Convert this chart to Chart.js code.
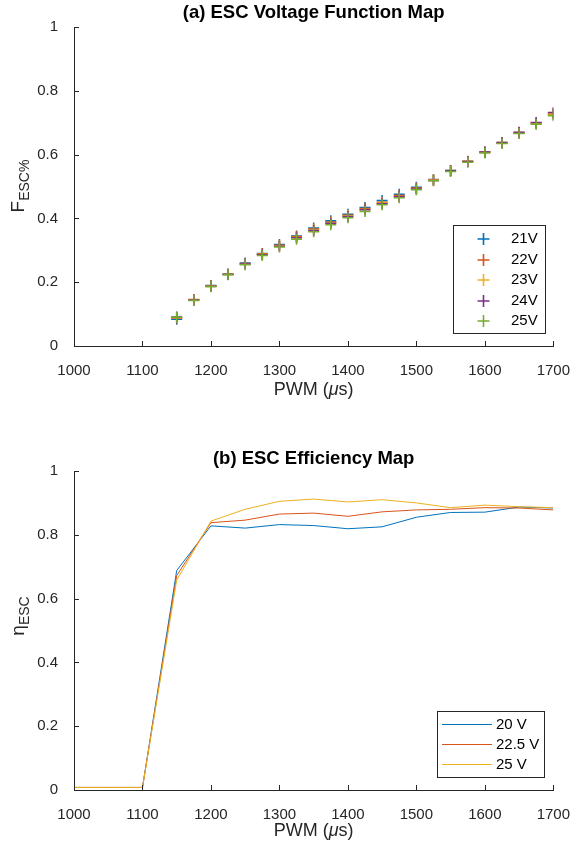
<!DOCTYPE html>
<html>
<head>
<meta charset="utf-8">
<script src="https://cdn.jsdelivr.net/npm/chart.js@4.4.1/dist/chart.umd.min.js"></script>
<style>
  html, body { margin: 0; padding: 0; background: #ffffff; }
  .panel { position: absolute; left: 0; width: 578px; height: 425px; }
  #p1 { top: 0; }
  #p2 { top: 425px; }
</style>
</head>
<body>
<div class="panel" id="p1"><canvas id="c1" width="578" height="425"></canvas></div>
<div class="panel" id="p2"><canvas id="c2" width="578" height="425"></canvas></div>
<script>
// ---------- data: (a) voltage function map ----------
const pwmA = [1150, 1175, 1200, 1225, 1250, 1275, 1300, 1325, 1350, 1375, 1400, 1425,
              1450, 1475, 1500, 1525, 1550, 1575, 1600, 1625, 1650, 1675, 1700];
const f21V = [0.084, 0.145, 0.190, 0.226, 0.260, 0.290, 0.318, 0.345, 0.370, 0.393, 0.413, 0.434,
              0.456, 0.476, 0.498, 0.522, 0.550, 0.578, 0.607, 0.636, 0.667, 0.697, 0.725];
const f22V = [0.088, 0.146, 0.189, 0.225, 0.259, 0.289, 0.316, 0.343, 0.367, 0.389, 0.410, 0.431,
              0.451, 0.472, 0.495, 0.521, 0.550, 0.579, 0.608, 0.638, 0.669, 0.699, 0.728];
const f23V = [0.089, 0.145, 0.188, 0.224, 0.257, 0.287, 0.314, 0.340, 0.364, 0.386, 0.408, 0.428,
              0.448, 0.469, 0.493, 0.520, 0.549, 0.578, 0.607, 0.637, 0.668, 0.698, 0.727];
const f24V = [0.091, 0.144, 0.187, 0.224, 0.257, 0.286, 0.313, 0.339, 0.362, 0.385, 0.406, 0.427,
              0.446, 0.468, 0.492, 0.519, 0.549, 0.578, 0.608, 0.638, 0.670, 0.701, 0.732];
const f25V = [0.090, 0.143, 0.186, 0.223, 0.255, 0.284, 0.310, 0.335, 0.358, 0.380, 0.402, 0.422,
              0.443, 0.465, 0.490, 0.518, 0.547, 0.576, 0.605, 0.635, 0.666, 0.695, 0.722];
const labelsA = ['21V', '22V', '23V', '24V', '25V'];

// ---------- data: (b) efficiency map ----------
const pwmB = [1000, 1050, 1100, 1150, 1200, 1250, 1300, 1350, 1400, 1450, 1500, 1550, 1600, 1650, 1700];
const eta20V  = [0.008, 0.008, 0.008, 0.688, 0.828, 0.821, 0.832, 0.829, 0.819, 0.825, 0.855, 0.870, 0.871, 0.887, 0.884];
const eta225V = [0.008, 0.008, 0.008, 0.672, 0.838, 0.846, 0.865, 0.868, 0.858, 0.872, 0.878, 0.880, 0.885, 0.884, 0.878];
const eta25V  = [0.008, 0.008, 0.008, 0.658, 0.843, 0.880, 0.905, 0.912, 0.903, 0.910, 0.900, 0.885, 0.893, 0.888, 0.885];
const labelsB = ['20 V', '22.5 V', '25 V'];

const xTicks = [1000, 1100, 1200, 1300, 1400, 1500, 1600, 1700];
const yTicks = [0, 0.2, 0.4, 0.6, 0.8, 1];

const colors = ['#0072BD', '#D95319', '#EDB120', '#7E2F8E', '#77AC30'];
const INK = '#262626';
const FONT = "'Liberation Sans', Arial, Helvetica, sans-serif";

const pairs = (xs, ys) => xs.map((x, i) => ({ x: x, y: ys[i] }));

// MATLAB-like axes: left/bottom axis lines, ticks pointing inward
function axesOptions(xHeight) {
  return {
    x: {
      type: 'linear', min: 1000, max: 1700,
      afterBuildTicks: s => { s.ticks = xTicks.map(v => ({ value: v })); },
      afterFit: s => { s.height = xHeight; },
      grid: { display: false },
      border: { display: true, color: INK, width: 1 },
      ticks: { color: INK, font: { family: FONT, size: 15 }, padding: 8, maxRotation: 0,
               callback: v => String(v) }
    },
    y: {
      type: 'linear', min: 0, max: 1,
      afterBuildTicks: s => { s.ticks = yTicks.map(v => ({ value: v })); },
      afterFit: s => { s.width = 74; },
      grid: { display: false },
      border: { display: true, color: INK, width: 1 },
      ticks: { color: INK, font: { family: FONT, size: 15 }, padding: 8,
               callback: v => String(Math.round(v * 10) / 10) }
    }
  };
}

function drawInnerTicks(chart) {
  const ctx = chart.ctx, a = chart.chartArea;
  const xs = chart.scales.x, ys = chart.scales.y;
  ctx.save();
  ctx.strokeStyle = INK; ctx.lineWidth = 1;
  ctx.beginPath();
  xTicks.forEach(v => {
    const px = Math.round(xs.getPixelForValue(v)) + 0.5;
    ctx.moveTo(px, a.bottom); ctx.lineTo(px, a.bottom - 5);
  });
  yTicks.forEach(v => {
    const py = Math.round(ys.getPixelForValue(v)) + 0.5;
    ctx.moveTo(a.left, py); ctx.lineTo(a.left + 5, py);
  });
  ctx.stroke();
  ctx.restore();
}

function drawXTitle(ctx, cx, y) {
  ctx.save();
  ctx.fillStyle = INK;
  ctx.textBaseline = 'middle';
  const parts = [['PWM (', '18px ' + FONT], ['\u03BC', 'italic 18px ' + FONT], ['s)', '18px ' + FONT]];
  let w = 0;
  parts.forEach(p => { ctx.font = p[1]; w += ctx.measureText(p[0]).width; });
  let x = cx - w / 2;
  ctx.textAlign = 'left';
  parts.forEach(p => { ctx.font = p[1]; ctx.fillText(p[0], x, y); x += ctx.measureText(p[0]).width; });
  ctx.restore();
}

function drawYTitle(ctx, cx, cy, main, mainFont, sub, subFont, subShift) {
  ctx.save();
  ctx.translate(cx, cy);
  ctx.rotate(-Math.PI / 2);
  ctx.fillStyle = INK;
  ctx.textBaseline = 'alphabetic';
  ctx.textAlign = 'left';
  ctx.font = mainFont; const w1 = ctx.measureText(main).width;
  ctx.font = subFont; const w2 = ctx.measureText(sub).width;
  const x0 = -(w1 + w2) / 2;
  ctx.font = mainFont; ctx.fillText(main, x0, 0);
  ctx.font = subFont; ctx.fillText(sub, x0 + w1, subShift);
  ctx.restore();
}

function drawTitle(ctx, text, cx, cy) {
  ctx.save();
  ctx.fillStyle = '#000000';
  ctx.font = 'bold 18.5px ' + FONT;
  ctx.textAlign = 'center'; ctx.textBaseline = 'middle';
  ctx.fillText(text, cx, cy);
  ctx.restore();
}

function legendBox(ctx, x0, y0, x1, y1) {
  ctx.save();
  ctx.fillStyle = '#ffffff';
  ctx.fillRect(x0, y0, x1 - x0, y1 - y0);
  ctx.strokeStyle = INK; ctx.lineWidth = 1;
  ctx.strokeRect(x0 + 0.5, y0 + 0.5, x1 - x0, y1 - y0);
  ctx.restore();
}

// ---------- panel (a) ----------
const decorA = {
  id: 'decorA',
  afterDraw(chart) {
    const ctx = chart.ctx;
    const mid = (chart.chartArea.left + chart.chartArea.right) / 2;
    drawInnerTicks(chart);
    drawTitle(ctx, '(a) ESC Voltage Function Map', mid, 13);
    drawXTitle(ctx, mid, 390);
    drawYTitle(ctx, 24, 186, 'F', '19px ' + FONT, 'ESC%', '14px ' + FONT, 5);
    legendBox(ctx, 453, 225, 545, 333);
    labelsA.forEach((lab, i) => {
      const y = Math.round(239 + i * 20.6);
      ctx.save();
      ctx.strokeStyle = colors[i];
      ctx.lineWidth = 1.6;
      ctx.beginPath();
      ctx.moveTo(477.5, y); ctx.lineTo(489.5, y);
      ctx.moveTo(483.5, y - 6); ctx.lineTo(483.5, y + 6);
      ctx.stroke();
      ctx.fillStyle = '#000000';
      ctx.font = '15px ' + FONT;
      ctx.textAlign = 'left'; ctx.textBaseline = 'middle';
      ctx.fillText(lab, 511, y);
      ctx.restore();
    });
  }
};

const seriesA = [f21V, f22V, f23V, f24V, f25V];
new Chart(document.getElementById('c1'), {
  type: 'scatter',
  data: {
    datasets: seriesA.map((vals, i) => ({
      label: labelsA[i],
      data: pairs(pwmA, vals),
      pointStyle: 'cross',
      pointRadius: 5.5,
      pointBorderWidth: 1.5,
      borderColor: colors[i],
      backgroundColor: colors[i],
      order: seriesA.length - i
    }))
  },
  options: {
    responsive: false, animation: false, devicePixelRatio: 1,
    layout: { padding: { top: 27, right: 20, bottom: 0, left: 0 } },
    plugins: { legend: { display: false }, tooltip: { enabled: false } },
    scales: axesOptions(79)
  },
  plugins: [decorA]
});

// ---------- panel (b) ----------
const decorB = {
  id: 'decorB',
  afterDraw(chart) {
    const ctx = chart.ctx;
    const mid = (chart.chartArea.left + chart.chartArea.right) / 2;
    drawInnerTicks(chart);
    drawTitle(ctx, '(b) ESC Efficiency Map', mid, 34);
    drawXTitle(ctx, mid, 406);
    drawYTitle(ctx, 24, 191, '\u03B7', '19px ' + FONT, 'ESC', '14px ' + FONT, 5);
    legendBox(ctx, 437, 286, 544, 352);
    labelsB.forEach((lab, i) => {
      const y = 299.5 + i * 20;
      ctx.save();
      ctx.strokeStyle = colors[i]; ctx.lineWidth = 1;
      ctx.beginPath(); ctx.moveTo(442, y); ctx.lineTo(492, y); ctx.stroke();
      ctx.fillStyle = '#000000';
      ctx.font = '15px ' + FONT;
      ctx.textAlign = 'left'; ctx.textBaseline = 'middle';
      ctx.fillText(lab, 496, y);
      ctx.restore();
    });
  }
};

const seriesB = [eta20V, eta225V, eta25V];
new Chart(document.getElementById('c2'), {
  type: 'scatter',
  data: {
    datasets: seriesB.map((vals, i) => ({
      label: labelsB[i],
      data: pairs(pwmB, vals),
      showLine: true,
      pointRadius: 0,
      borderWidth: 1,
      borderColor: colors[i],
      backgroundColor: colors[i],
      order: seriesB.length - i
    }))
  },
  options: {
    responsive: false, animation: false, devicePixelRatio: 1,
    layout: { padding: { top: 46, right: 20, bottom: 0, left: 0 } },
    plugins: { legend: { display: false }, tooltip: { enabled: false } },
    scales: axesOptions(60)
  },
  plugins: [decorB]
});
</script>
</body>
</html>
